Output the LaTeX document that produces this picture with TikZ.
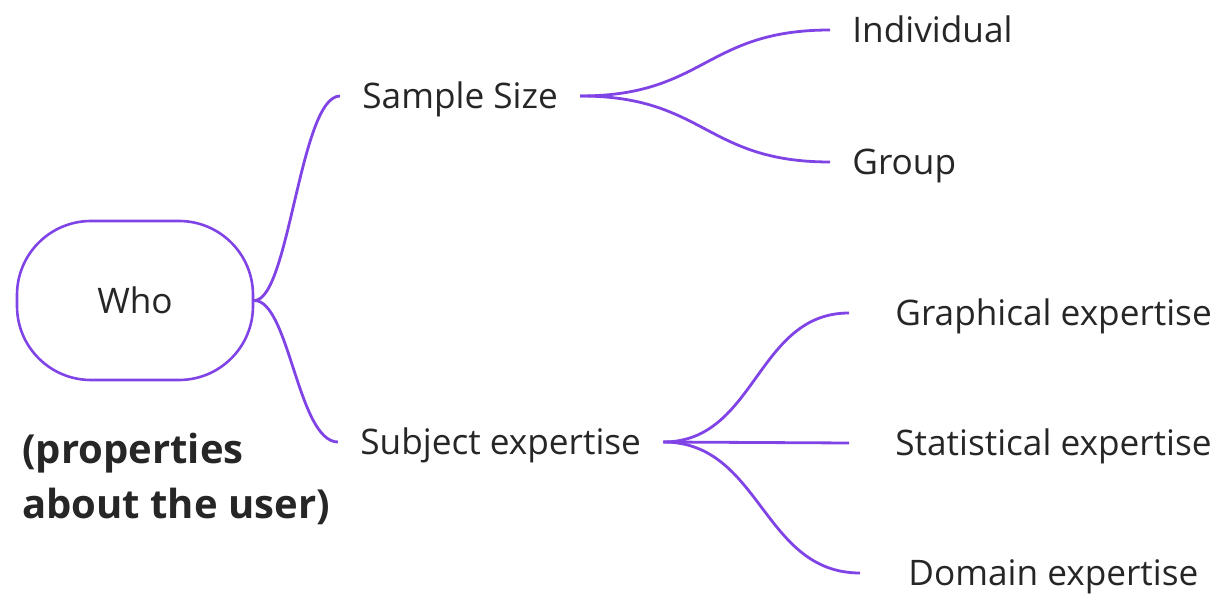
\documentclass[tikz,border=0pt]{standalone}
\usepackage{fontspec}
\setmainfont{Open Sans}
\usepackage{xcolor}
\usepackage{tikz}
\definecolor{branch}{RGB}{128,68,230}

\begin{document}
\begin{tikzpicture}[x=0.5pt,y=-0.5pt,
	topic/.style={anchor=west,inner xsep=11pt,inner ysep=0pt,text height=14.4pt,text depth=2pt,font=\fontsize{17.6}{20}\selectfont,text=black!85},
	far/.style={topic,inner xsep=23pt},
	link/.style={branch,line width=1.4pt}]
	\useasboundingbox (0,0) rectangle (1222,603);
	
	\node[draw=branch,line width=1.3pt,rounded corners=37pt,minimum width=118pt,minimum height=79.5pt,font=\fontsize{17.6}{20}\selectfont,text=black!85] (who) at (135,300.5) {Who};
	\node[anchor=north west,inner sep=0pt,align=left,font=\fontsize{20}{27.5}\selectfont\bfseries,text=black!85] (note) at (22,433) {(properties\\about the user)};
	
	\node[topic] (size) at (340,96) {Sample Size};
	\node[topic] (subject) at (338,442) {Subject expertise};
	\node[topic] (indiv) at (830,30) {Individual};
	\node[topic] (group) at (830,162) {Group};
	\node[far] (graph) at (849,313) {Graphical expertise};
	\node[far] (stat) at (849,443) {Statistical expertise};
	\node[far,inner xsep=24pt] (domain) at (860,573) {Domain expertise};
	
	\draw[link] (who.east) .. controls +(35,0) and +(-40,0) .. (size.west);
	\draw[link] (who.east) .. controls +(35,0) and +(-40,0) .. (subject.west);
	\draw[link] (size.east) .. controls +(125,0) and +(-125,0) .. (indiv.west);
	\draw[link] (size.east) .. controls +(125,0) and +(-125,0) .. (group.west);
	\draw[link] (subject.east) .. controls +(93,0) and +(-93,0) .. (graph.west);
	\draw[link] (subject.east) -- (stat.west);
	\draw[link] (subject.east) .. controls +(98,0) and +(-98,0) .. (domain.west);
\end{tikzpicture}
\end{document}
